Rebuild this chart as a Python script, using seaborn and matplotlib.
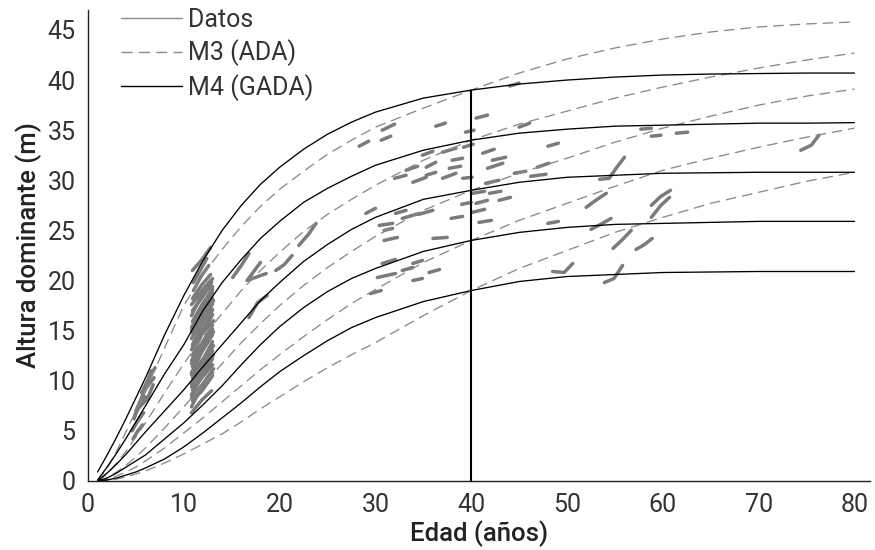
import matplotlib
matplotlib.use('Agg')
import matplotlib.pyplot as plt
from matplotlib.lines import Line2D
import seaborn as sns
import pandas as pd

sns.set_style('white')
plt.rcParams['font.family'] = ['Roboto', 'DejaVu Sans']

# ages at which the model curves were read
AGES = [1, 2, 3, 4, 5, 6, 8, 10, 12, 14, 16, 18, 20, 22.5, 25, 27.5, 30, 35, 40,
        45, 50, 55, 60, 65, 70, 75, 80]

# M4 (GADA), site index 39/34/29/24/19 m at 40 years
M4_S39 = [0.9, 2.6, 4.4, 6.3, 8.3, 10.3, 14.6, 18.5, 22.0, 25.0, 27.5, 29.6, 31.3, 33.1,
          34.6, 35.8, 36.8, 38.2, 39.0, 39.6, 40.0, 40.3, 40.5, 40.6, 40.65, 40.7, 40.7]
M4_S34 = [0.1, 1.4, 2.8, 4.3, 5.9, 7.5, 10.7, 13.6, 17.0, 19.8, 22.1, 24.2, 25.9, 27.8,
          29.2, 30.4, 31.5, 33.0, 34.0, 34.7, 35.1, 35.4, 35.5, 35.6, 35.7, 35.7, 35.75]
M4_S29 = [0.0, 0.8, 1.7, 2.7, 3.8, 4.9, 7.0, 9.1, 11.4, 13.6, 15.8, 18.0, 19.8, 21.9,
          23.6, 25.1, 26.3, 28.1, 29.0, 29.8, 30.3, 30.5, 30.7, 30.75, 30.8, 30.8, 30.8]
M4_S24 = [0.0, 0.3, 0.8, 1.4, 2.0, 2.6, 4.2, 5.8, 7.6, 9.5, 11.6, 13.6, 15.4, 17.3,
          18.9, 20.2, 21.2, 22.9, 24.0, 24.8, 25.3, 25.6, 25.7, 25.8, 25.9, 25.9, 25.9]
M4_S19 = [0.0, 0.1, 0.3, 0.6, 0.9, 1.3, 2.2, 3.4, 4.8, 6.3, 7.8, 9.4, 10.9, 12.5,
          14.0, 15.3, 16.3, 17.9, 19.0, 19.9, 20.4, 20.6, 20.8, 20.85, 20.9, 20.9, 20.9]

# M3 (ADA)
M3_S39 = [0.0, 1.3, 3.0, 5.0, 7.0, 9.0, 13.3, 17.5, 20.6, 23.1, 25.4, 27.4, 29.1, 30.9,
          32.6, 34.0, 35.3, 37.2, 39.0, 40.7, 42.1, 43.2, 44.1, 44.8, 45.3, 45.6, 45.8]
M3_S34 = [0.0, 0.7, 1.8, 3.0, 4.4, 5.8, 8.8, 11.7, 14.4, 16.7, 19.0, 21.0, 22.8, 24.9,
          26.6, 28.1, 29.5, 32.0, 34.0, 35.6, 36.9, 38.2, 39.3, 40.3, 41.2, 42.0, 42.7]
M3_S29 = [0.0, 0.3, 0.9, 1.6, 2.4, 3.3, 5.3, 7.4, 9.6, 11.7, 13.8, 15.7, 17.5, 19.5,
          21.3, 22.9, 24.4, 27.0, 29.0, 30.7, 32.2, 33.8, 35.2, 36.4, 37.5, 38.4, 39.1]
M3_S24 = [0.0, 0.15, 0.5, 0.9, 1.4, 2.0, 3.3, 4.8, 6.3, 7.9, 9.5, 11.1, 12.6, 14.4,
          16.1, 17.7, 19.1, 21.8, 24.0, 26.0, 27.7, 29.4, 31.0, 32.2, 33.3, 34.3, 35.2]
M3_S19 = [0.0, 0.05, 0.2, 0.4, 0.7, 1.0, 1.8, 2.7, 3.7, 4.7, 5.9, 7.2, 8.4, 9.9,
          11.3, 12.6, 13.8, 16.5, 19.0, 21.2, 23.0, 24.8, 26.3, 27.7, 28.8, 29.9, 30.8]

REF_AGE = 40

# observed plots: each one is a short series of (edad, altura)
DATOS = [
    # young stands, 5-7 years
    [(5.0, 7.0), (5.7, 8.5), (6.5, 10.5), (7.0, 11.3)],
    [(4.8, 6.2), (5.5, 8.0), (6.0, 9.5)],
    [(5.3, 7.3), (6.2, 8.2), (6.8, 9.6)],
    [(5.6, 8.8), (6.3, 10.2), (6.6, 11.0)],
    [(4.6, 5.0), (5.2, 6.0), (5.8, 6.8)],
    [(4.7, 4.2), (5.2, 5.0), (5.7, 5.6)],
    [(5.9, 9.0), (6.4, 9.7), (6.9, 10.3)],
    [(4.9, 6.6), (5.4, 7.6), (6.0, 8.4)],
    # 11-13 years block
    [(10.8, 6.8), (11.9, 8.1), (12.9, 9.0)],
    [(10.8, 7.4), (11.8, 9.3), (13.0, 10.8)],
    [(10.9, 8.0), (11.9, 9.0), (13.0, 10.5)],
    [(10.8, 8.3), (12.0, 9.7), (13.1, 11.2)],
    [(10.8, 8.6), (12.0, 10.6), (13.0, 12.2)],
    [(10.9, 9.1), (11.8, 10.2), (13.0, 11.6)],
    [(10.8, 9.4), (11.9, 10.9), (13.1, 12.6)],
    [(10.8, 9.7), (11.9, 11.8), (13.1, 13.5)],
    [(10.9, 10.3), (12.0, 11.6), (13.0, 13.0)],
    [(10.8, 10.6), (12.1, 12.3), (13.0, 13.9)],
    [(10.8, 10.8), (11.9, 12.9), (13.0, 14.6)],
    [(10.9, 11.4), (11.8, 13.0), (13.1, 14.9)],
    [(10.8, 11.7), (11.9, 13.4), (13.0, 15.2)],
    [(10.8, 12.0), (12.0, 13.9), (13.0, 15.6)],
    [(10.9, 12.5), (11.9, 14.7), (13.0, 16.6)],
    [(10.8, 13.1), (11.8, 14.6), (13.1, 16.0)],
    [(10.9, 13.4), (12.1, 15.2), (13.0, 17.1)],
    [(10.9, 13.6), (12.0, 15.8), (13.0, 17.7)],
    [(10.8, 14.2), (11.9, 16.3), (13.0, 18.2)],
    [(10.9, 14.8), (11.8, 16.4), (13.1, 18.0)],
    [(10.8, 15.0), (12.0, 16.9), (13.0, 18.8)],
    [(10.8, 15.3), (12.0, 17.4), (13.0, 19.4)],
    [(10.9, 15.9), (11.9, 17.6), (13.0, 19.1)],
    [(10.8, 16.5), (11.8, 18.5), (13.0, 20.2)],
    [(10.9, 17.0), (12.0, 18.4), (12.9, 19.8)],
    [(10.8, 17.6), (11.9, 19.0), (12.8, 20.0)],
    [(10.9, 18.2), (11.9, 19.6), (12.8, 20.6)],
    [(11.0, 19.0), (11.8, 20.4), (12.6, 21.5)],
    [(10.9, 21.0), (11.9, 22.1), (12.8, 23.3)],
    [(11.0, 19.8), (11.7, 21.0), (12.4, 22.2)],
    # 15-25 years
    [(15.1, 20.3), (16.0, 21.5), (16.8, 22.7)],
    [(18.0, 21.8), (16.6, 20.0), (18.6, 20.7)],
    [(16.8, 16.3), (17.7, 17.8), (18.7, 18.5)],
    [(19.6, 21.0), (20.5, 21.6), (21.3, 22.5)],
    [(22.0, 23.5), (23.0, 24.6), (23.8, 25.7)],
    # 28-40 years
    [(30.7, 35.0), (32.0, 35.6)],
    [(30.6, 34.0), (31.6, 34.4)],
    [(28.3, 33.4), (29.3, 33.9)],
    [(36.3, 35.4), (37.3, 35.7)],
    [(39.4, 34.8), (40.3, 35.0)],
    [(39.2, 33.3), (40.2, 33.6)],
    [(34.9, 32.5), (36.0, 32.9)],
    [(37.0, 32.8), (38.4, 33.2)],
    [(38.0, 32.0), (39.1, 32.2)],
    [(33.2, 31.0), (34.4, 31.4)],
    [(35.3, 31.3), (36.3, 31.8)],
    [(32.0, 30.2), (33.2, 30.5)],
    [(33.9, 29.8), (35.3, 30.3)],
    [(35.3, 30.5), (36.3, 30.8)],
    [(37.0, 30.2), (38.4, 30.7)],
    [(37.7, 31.2), (38.9, 31.4)],
    [(39.1, 30.2), (40.1, 30.3)],
    [(29.0, 26.7), (30.0, 27.2)],
    [(30.4, 25.5), (31.8, 25.7)],
    [(30.9, 25.0), (31.8, 25.2)],
    [(32.1, 26.7), (33.2, 27.0)],
    [(32.8, 26.2), (34.6, 26.7)],
    [(34.5, 26.6), (36.0, 27.0)],
    [(30.9, 24.0), (32.3, 24.3)],
    [(36.0, 24.2), (37.5, 24.3)],
    [(37.9, 26.2), (39.1, 26.4)],
    [(39.0, 27.6), (40.0, 27.8)],
    [(30.7, 21.7), (32.1, 22.1)],
    [(32.8, 21.0), (33.9, 21.3)],
    [(33.9, 21.7), (34.9, 22.0)],
    [(30.2, 20.3), (32.1, 20.7)],
    [(35.6, 20.8), (36.7, 21.1)],
    [(33.9, 20.0), (34.9, 20.2)],
    [(29.5, 18.7), (30.6, 19.0)],
    # beyond 40 years
    [(44.0, 39.4), (45.0, 39.7)],
    [(40.5, 36.2), (41.7, 36.5)],
    [(45.0, 35.3), (46.1, 35.7)],
    [(48.0, 33.4), (49.1, 33.7)],
    [(57.7, 35.1), (58.8, 35.2)],
    [(58.8, 34.4), (59.8, 34.5)],
    [(61.4, 34.7), (62.6, 34.8)],
    [(74.4, 33.0), (75.5, 33.5), (76.3, 34.5)],
    [(41.2, 32.7), (42.4, 33.1)],
    [(42.2, 32.0), (43.6, 32.3)],
    [(41.7, 31.2), (43.3, 31.7)],
    [(41.5, 29.7), (42.9, 30.0)],
    [(44.5, 30.7), (45.7, 30.9)],
    [(46.2, 30.4), (47.8, 30.6)],
    [(46.9, 31.3), (48.1, 31.7)],
    [(40.1, 28.7), (41.4, 28.9)],
    [(41.9, 28.7), (43.1, 28.9)],
    [(42.9, 28.0), (44.1, 28.3)],
    [(40.5, 27.7), (41.7, 28.0)],
    [(40.1, 26.8), (41.4, 27.1)],
    [(40.8, 25.8), (42.1, 26.0)],
    [(48.0, 25.7), (49.1, 25.9)],
    [(53.4, 30.1), (54.4, 30.2), (55.2, 31.3), (56.0, 32.3)],
    [(52.0, 27.3), (53.0, 28.0), (54.1, 28.7)],
    [(58.8, 27.5), (59.8, 28.4), (60.8, 29.0)],
    [(58.8, 26.3), (59.8, 27.5), (60.7, 28.3)],
    [(52.5, 25.1), (53.5, 25.6), (54.6, 26.2)],
    [(54.8, 23.2), (55.8, 24.1), (56.7, 25.0)],
    [(57.2, 23.1), (58.1, 23.6), (58.9, 24.2)],
    [(48.5, 20.9), (49.7, 20.8), (50.6, 21.7)],
    [(53.9, 19.8), (54.9, 20.2), (55.8, 21.5)],
]

X_TICKS = [0, 10, 20, 30, 40, 50, 60, 70, 80]
Y_TICKS = [0, 5, 10, 15, 20, 25, 30, 35, 40, 45]


def curves_frame(curves):
    rows = []
    for name, vals in curves.items():
        for a, h in zip(AGES, vals):
            rows.append({'edad': a, 'altura': h, 'curva': name})
    return pd.DataFrame(rows)


m4 = curves_frame({'S39': M4_S39, 'S34': M4_S34, 'S29': M4_S29, 'S24': M4_S24, 'S19': M4_S19})
m3 = curves_frame({'S39': M3_S39, 'S34': M3_S34, 'S29': M3_S29, 'S24': M3_S24, 'S19': M3_S19})
datos = pd.DataFrame([{'edad': a, 'altura': h, 'parcela': i}
                      for i, seg in enumerate(DATOS) for a, h in seg])

fig = plt.figure(figsize=(8.75, 5.5), dpi=100)
ax = fig.add_axes([0.1006, 0.1255, 0.8934, 0.8565])

dato_col = '#7b7b7b'
dash_col = '#8a8a8a'
txt_col = '#333333'

sns.lineplot(data=datos, x='edad', y='altura', units='parcela', estimator=None, sort=False,
             color=dato_col, lw=2.5, solid_capstyle='round', solid_joinstyle='round', ax=ax)
sns.lineplot(data=m3, x='edad', y='altura', units='curva', estimator=None, sort=False,
             color=dash_col, lw=0.95, linestyle=(0, (8, 4.5)), ax=ax)
sns.lineplot(data=m4, x='edad', y='altura', units='curva', estimator=None, sort=False,
             color='black', lw=0.95, ax=ax)

ax.vlines(REF_AGE, 0, M4_S39[AGES.index(REF_AGE)], color='black', lw=1.5)

ax.set_xlim(0, 81.6)
ax.set_ylim(0, 47)
ax.set_xticks(X_TICKS)
ax.set_yticks(Y_TICKS)
for s in ['top', 'right']:
    ax.spines[s].set_visible(False)
for s in ['left', 'bottom']:
    ax.spines[s].set_color('#222222')
    ax.spines[s].set_linewidth(1.0)
ax.tick_params(direction='inout', length=10, width=1.0, color='#222222',
               labelsize=18, labelcolor=txt_col)
ax.tick_params(axis='x', pad=4)
ax.tick_params(axis='y', pad=4)
for lab in ax.get_xticklabels() + ax.get_yticklabels():
    lab.set_fontweight('normal')

ax.set_xlabel('Edad (años)', fontsize=18.5, fontweight='medium', color='#222222', labelpad=2)
ax.set_ylabel('Altura dominante (m)', fontsize=18.5, fontweight='medium', color='#222222', labelpad=4)

handles = [Line2D([], [], color=dash_col, lw=1.0),
           Line2D([], [], color=dash_col, lw=1.0, linestyle=(0, (8, 4.5))),
           Line2D([], [], color='black', lw=1.0)]
leg = ax.legend(handles, ['Datos', 'M3 (ADA)', 'M4 (GADA)'], loc='upper left',
                bbox_to_anchor=(0.029, 1.025), frameon=False, fontsize=18,
                handlelength=2.45, handletextpad=0.25, labelspacing=0.3, borderaxespad=0)
for t in leg.get_texts():
    t.set_fontweight('normal')
    t.set_color(txt_col)

fig.savefig('out.png', dpi=100)
